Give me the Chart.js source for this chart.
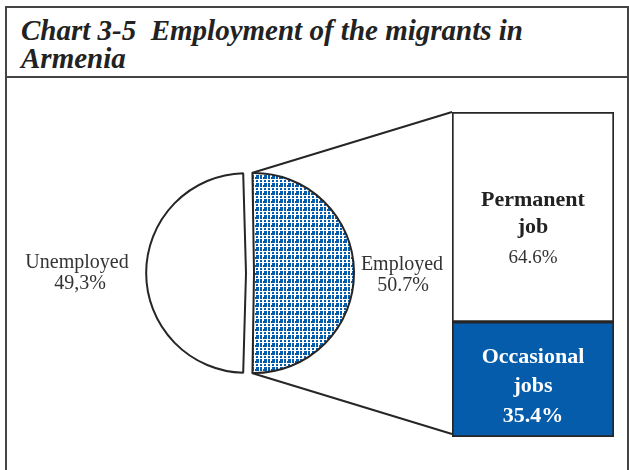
<!DOCTYPE html>
<html><head><meta charset="utf-8">
<script src="https://cdn.jsdelivr.net/npm/chart.js@4/dist/chart.umd.min.js"></script>
<style>
html,body{margin:0;padding:0;background:#fff;width:629px;height:470px;overflow:hidden;}
#frame{position:absolute;left:5px;top:6px;width:620px;height:500px;border-left:2px solid #444;border-top:2px solid #444;border-right:2px solid #444;}
#tline{position:absolute;left:5px;top:76px;width:624px;height:2px;background:#444;}
.t{position:absolute;left:21px;font-family:'Liberation Serif',serif;font-weight:bold;font-style:italic;font-size:29px;line-height:28px;color:#222;white-space:pre;}
canvas{position:absolute;}
#pie{left:0;top:148px;}
#bar{left:440px;top:100px;}
#over{left:0;top:0;pointer-events:none;}
</style></head>
<body>
<div id="frame"></div>
<div id="tline"></div>
<div class="t" id="t1" style="top:16px"></div>
<div class="t" id="t2" style="top:44px"></div>
<canvas id="pie" width="500" height="250" style="width:500px;height:250px"></canvas>
<canvas id="bar" width="189" height="350" style="width:189px;height:350px"></canvas>
<canvas id="over" width="629" height="470" style="width:629px;height:470px"></canvas>
<script>
// ---- data ----
const titleLines = ['Chart 3-5  Employment of the migrants in', 'Armenia'];
const pieLabels = ['Employed', 'Unemployed'];
const pieValues = [50.7, 49.3];
const pieValueText = ['50.7%', '49,3%'];
const jobLabels = [['Permanent', 'job'], ['Occasional', 'jobs']];
const jobValues = [64.6, 35.4];
const jobValueText = ['64.6%', '35.4%'];

document.getElementById('t1').textContent = titleLines[0];
document.getElementById('t2').textContent = titleLines[1];

const BLUE = '#045cab';
const DARK = '#262626';

// pattern for Employed slice
const tile = document.createElement('canvas');
tile.width = 8; tile.height = 8;
const tc = tile.getContext('2d');
tc.fillStyle = '#fff'; tc.fillRect(0, 0, 8, 8);
tc.fillStyle = BLUE;
tc.fillRect(0, 0, 2, 2); tc.fillRect(4, 0, 2, 2);
tc.fillRect(0, 3, 2, 4); tc.fillRect(3, 5, 1, 2);
tc.fillRect(4, 3, 3, 4);
const pattern = document.getElementById('pie').getContext('2d').createPattern(tile, 'repeat');

const OFFSET = 16; // Chart.js v4 translates arcs by offset/4
const employedSpan = pieValues[0] / (pieValues[0] + pieValues[1]) * 360;

const pieLabelPlugin = {
  id: 'pieLabels',
  afterDraw(chart) {
    const ctx = chart.ctx;
    const arcs = chart.getDatasetMeta(0).data;
    const cx = arcs[0].x, cy = arcs[0].y;
    ctx.save();
    ctx.fillStyle = '#333';
    ctx.textAlign = 'center';
    ctx.font = '20px "Liberation Serif"';
    ctx.fillText(pieLabels[0], cx + 152, cy - 3);
    ctx.fillText(pieValueText[0], cx + 153, cy + 18);
    ctx.fillText(pieLabels[1], cx - 173, cy - 5);
    ctx.fillText(pieValueText[1], cx - 170, cy + 16);
    ctx.restore();
  }
};

const pieChart = new Chart(document.getElementById('pie'), {
  type: 'pie',
  data: {
    labels: pieLabels,
    datasets: [{
      data: pieValues,
      backgroundColor: [pattern, '#ffffff'],
      borderColor: DARK,
      borderWidth: 2,
      offset: OFFSET,
      hoverOffset: 0
    }]
  },
  options: {
    responsive: false,
    animation: false,
    radius: 96,
    rotation: 90 - employedSpan / 2,
    layout: { padding: { left: 140, right: 140, top: 0, bottom: 0 } },
    plugins: { legend: { display: false }, tooltip: { enabled: false } },
    events: []
  },
  plugins: [pieLabelPlugin]
});

const barLabelPlugin = {
  id: 'barLabels',
  afterDraw(chart) {
    const ctx = chart.ctx;
    ctx.save();
    ctx.textAlign = 'center';
    const perm = chart.getDatasetMeta(1).data[0];
    const occ = chart.getDatasetMeta(0).data[0];
    ctx.fillStyle = '#222';
    ctx.font = 'bold 22px "Liberation Serif"';
    ctx.fillText(jobLabels[0][0], perm.x, perm.y + 94);
    ctx.fillText(jobLabels[0][1], perm.x, perm.y + 121);
    ctx.font = '19px "Liberation Serif"';
    ctx.fillStyle = '#333';
    ctx.fillText(jobValueText[0], perm.x, perm.y + 151);
    ctx.fillStyle = '#fff';
    ctx.font = 'bold 22px "Liberation Serif"';
    ctx.fillText(jobLabels[1][0], occ.x, occ.y + 41);
    ctx.fillText(jobLabels[1][1], occ.x, occ.y + 70);
    ctx.fillText(jobValueText[1], occ.x, occ.y + 100);
    ctx.restore();
  }
};

const barChart = new Chart(document.getElementById('bar'), {
  type: 'bar',
  data: {
    labels: ['Employed'],
    datasets: [
      { label: jobLabels[1].join(' '), data: [jobValues[1]], backgroundColor: BLUE, borderColor: DARK, borderWidth: 2, borderSkipped: false },
      { label: jobLabels[0].join(' '), data: [jobValues[0]], backgroundColor: '#ffffff', borderColor: DARK, borderWidth: 2, borderSkipped: false }
    ]
  },
  options: {
    responsive: false,
    animation: false,
    datasets: { bar: { barPercentage: 1, categoryPercentage: 1 } },
    layout: { padding: { left: 12, right: 15, top: 12, bottom: 13 } },
    scales: {
      x: { stacked: true, display: false },
      y: { stacked: true, display: false, min: 0, max: 100 }
    },
    plugins: { legend: { display: false }, tooltip: { enabled: false } },
    events: []
  },
  plugins: [barLabelPlugin]
});

// connector lines from employed slice to the bar
(function () {
  const pieCanvas = document.getElementById('pie');
  const barCanvas = document.getElementById('bar');
  const pOff = { x: pieCanvas.offsetLeft, y: pieCanvas.offsetTop };
  const bOff = { x: barCanvas.offsetLeft, y: barCanvas.offsetTop };
  const arc = pieChart.getDatasetMeta(0).data[0];
  const t = OFFSET / 4;
  const half = (arc.startAngle + arc.endAngle) / 2;
  const circ = arc.endAngle - arc.startAngle;
  const fix = 1 - Math.sin(Math.min(Math.PI, circ));
  const R = arc.outerRadius + t * fix;
  const cx = arc.x + Math.cos(half) * t + pOff.x;
  const cy = arc.y + Math.sin(half) * t + pOff.y;
  const p1 = { x: cx + R * Math.cos(arc.startAngle), y: cy + R * Math.sin(arc.startAngle) };
  const p2 = { x: cx + R * Math.cos(arc.endAngle), y: cy + R * Math.sin(arc.endAngle) };
  const perm = barChart.getDatasetMeta(1).data[0];
  const occ = barChart.getDatasetMeta(0).data[0];
  const left = perm.x - perm.width / 2 + bOff.x;
  const q1 = { x: left, y: perm.y + bOff.y };
  const q2 = { x: left, y: occ.base + bOff.y - 3 };
  const ctx = document.getElementById('over').getContext('2d');
  ctx.strokeStyle = DARK;
  ctx.lineWidth = 2;
  ctx.beginPath();
  ctx.moveTo(p1.x, p1.y); ctx.lineTo(q1.x, q1.y);
  ctx.moveTo(p2.x, p2.y); ctx.lineTo(q2.x, q2.y);
  ctx.stroke();
})();
</script>
</body></html>
